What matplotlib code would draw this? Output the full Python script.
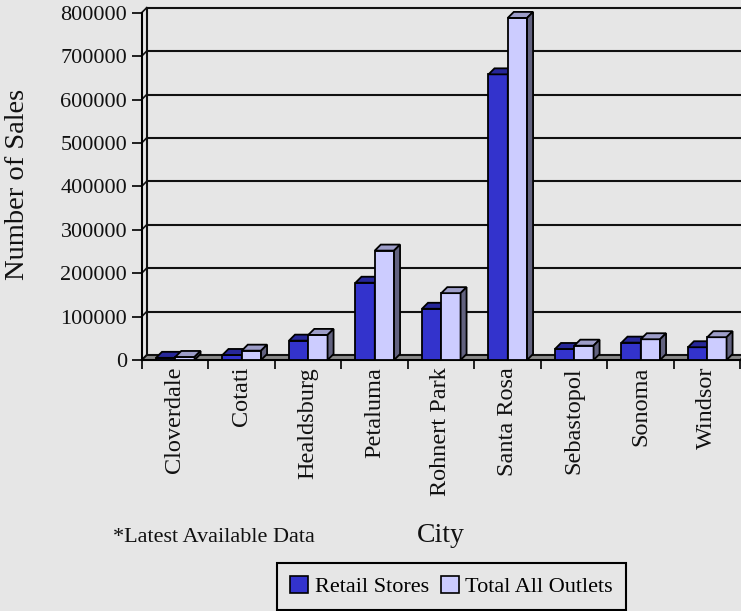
import matplotlib
matplotlib.use('Agg')
import matplotlib.pyplot as plt
from matplotlib.patches import Polygon, Patch

cities = ['Cloverdale', 'Cotati', 'Healdsburg', 'Petaluma', 'Rohnert Park',
          'Santa Rosa', 'Sebastopol', 'Sonoma', 'Windsor']
retail = [5000, 11600, 44600, 178000, 118000, 658000, 25400, 40000, 29400]
total = [7000, 21500, 57800, 252000, 154000, 788000, 33000, 47800, 52500]
series_names = ['Retail Stores', 'Total All Outlets']
yticks = [0, 100000, 200000, 300000, 400000, 500000, 600000, 700000, 800000]

bg = '#e6e6e6'
plt.rcParams['font.family'] = ['Liberation Serif', 'DejaVu Serif']

W, H = 741, 611
fig = plt.figure(figsize=(W / 100, H / 100), dpi=100, facecolor=bg)

# axes placed in pixel terms (front plane of the 3d box)
left_px, right_px, top_px, bottom_px = 141.7, 740.2, 12.7, 360.0
ax = fig.add_axes([left_px / W, 1 - bottom_px / H,
                   (right_px - left_px) / W, (bottom_px - top_px) / H])
ax.set_xlim(0, len(cities))
ax.set_ylim(0, yticks[-1])
ax.patch.set_visible(False)

# pixel -> data conversion for the depth offsets
px_x = (right_px - left_px) / len(cities)
px_y = (bottom_px - top_px) / yticks[-1]
wdx, wdy = 5 / px_x, 5 / px_y      # wall depth
bdx, bdy = 6 / px_x, 6 / px_y      # bar depth
n = len(cities)
ymax = yticks[-1]

# floor
ax.add_patch(Polygon([(0, 0), (n, 0), (n + wdx, wdy), (wdx, wdy)], closed=True,
                     facecolor='#8a8a8a', edgecolor='black', lw=1.2, clip_on=False, zorder=1))
# back wall gridlines + left wall diagonals
for v in yticks:
    ax.plot([wdx, n + wdx], [v + wdy, v + wdy], color='#111111', lw=1.5,
            clip_on=False, zorder=1.5)
    ax.plot([0, wdx], [v, v + wdy], color='#111111', lw=1.2, clip_on=False, zorder=1.5)
ax.plot([wdx, wdx], [wdy, ymax + wdy], color='#111111', lw=1.5, clip_on=False, zorder=1.5)


def bar3d(x0, w, v, front, top, side):
    ax.add_patch(Polygon([(x0, 0), (x0 + w, 0), (x0 + w, v), (x0, v)], closed=True,
                         facecolor=front, edgecolor='black', lw=1.3, clip_on=False, zorder=3))
    ax.add_patch(Polygon([(x0, v), (x0 + w, v), (x0 + w + bdx, v + bdy), (x0 + bdx, v + bdy)],
                         closed=True, facecolor=top, edgecolor='black', lw=1.3,
                         clip_on=False, zorder=3))
    ax.add_patch(Polygon([(x0 + w, 0), (x0 + w + bdx, bdy), (x0 + w + bdx, v + bdy), (x0 + w, v)],
                         closed=True, facecolor=side, edgecolor='black', lw=1.3,
                         clip_on=False, zorder=3))


bw = 0.29
for i in range(n):
    bar3d(i + 0.215, bw, retail[i], '#3333cc', '#272799', '#1c1c66')
    bar3d(i + 0.505, bw, total[i], '#ccccff', '#9d9dc8', '#62627f')

# axes / ticks
for s in ['top', 'right']:
    ax.spines[s].set_visible(False)
ax.spines['left'].set_linewidth(1.5)
ax.spines['bottom'].set_linewidth(1.5)
ax.spines['left'].set_zorder(4)
ax.set_yticks(yticks)
ax.set_yticklabels([str(v) for v in yticks])
ax.tick_params(axis='y', length=7, width=1.3, pad=3.5, labelsize=16, colors='#111111')
ax.set_xticks(range(n + 1))
ax.set_xticklabels([])
ax.set_xticks([i + 0.5 for i in range(n)], minor=True)
ax.set_xticklabels(cities, minor=True, rotation=90, fontsize=17.5)
ax.tick_params(axis='x', which='major', length=6.5, width=1.3, colors='#111111')
ax.tick_params(axis='x', which='minor', length=0, pad=5, colors='#111111')

fig.text(18 / W, 1 - 184 / H, 'Number of Sales', rotation=90, ha='center', va='center',
         fontsize=20.5, color='#111111')
fig.text(441 / W, 1 - 542 / H, 'City', ha='center', va='baseline', fontsize=20,
         color='#111111')
fig.text(113 / W, 1 - 541.5 / H, '*Latest Available Data', ha='left', va='baseline',
         fontsize=16, color='#111111')

handles = [Patch(facecolor='#3333cc', edgecolor='black', lw=1.2),
           Patch(facecolor='#ccccff', edgecolor='black', lw=1.2)]
leg = fig.legend(handles, series_names, loc='center', ncol=2,
                 bbox_to_anchor=(451.5 / W, 1 - 586.5 / H), fontsize=16,
                 handlelength=0.8, handleheight=0.8, handletextpad=0.3,
                 columnspacing=0.55, borderpad=0.6, fancybox=False,
                 facecolor=bg, edgecolor='black', framealpha=1)
leg.get_frame().set_linewidth(1.5)

fig.savefig('out.png', dpi=100, facecolor=bg)
